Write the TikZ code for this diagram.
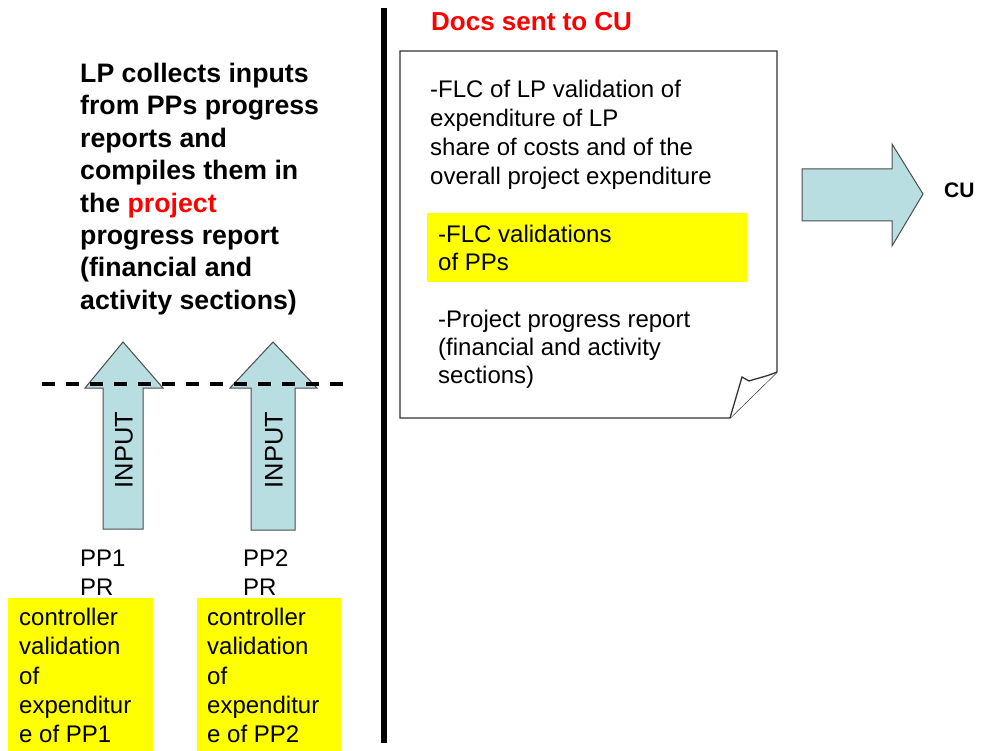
\documentclass[tikz,border=0pt]{standalone}
\usepackage{fontspec}
\setmainfont{Liberation Sans}
\usepackage{xcolor}
\usepackage{tikz}

\definecolor{arrowblue}{RGB}{185,222,226}
\definecolor{hiyellow}{RGB}{255,255,0}

\begin{document}
\begin{tikzpicture}[x=1pt, y=-1pt]

% Define styles
\tikzset{
    boldtext/.style={font=\fontsize{26.7}{32.4}\selectfont\bfseries, inner sep=0, align=left, anchor=north west},
    doctext/.style={font=\fontsize{24}{29}\selectfont, inner sep=0, align=left, anchor=north west},
    fatarrow/.style={fill=arrowblue, draw=black!70, line width=1},
    hilite/.style={fill=hiyellow, draw=none, inner sep=0, anchor=north west},
    docpaper/.style={fill=white, draw=black!80, line width=1.3}
}

\useasboundingbox (0,0) rectangle (982,751);

% divider
\coordinate (D1) at (384,8);
\coordinate (D2) at (384,743);
\draw[line width=6] (D1) -- (D2);

% left side text
\node[boldtext] (collect) at (80,63) {LP collects inputs\\from PPs progress\\reports and\\compiles them in\\the \textcolor{red}{project}\\progress report\\(financial and\\activity sections)};

% input arrows
\draw[fatarrow] (103,529) -- (103,388) -- (85,388) -- (123,342) -- (163,388) -- (143,388) -- (143,529) -- cycle;
\draw[fatarrow] (251,530) -- (251,388) -- (230,388) -- (273,342) -- (317,388) -- (295,388) -- (295,530) -- cycle;
\node[font=\fontsize{25.5}{30}\selectfont, rotate=90, inner sep=0] (in1) at (124,450) {INPUT};
\node[font=\fontsize{25.5}{30}\selectfont, rotate=90, inner sep=0] (in2) at (274,450) {INPUT};

% dashed line
\coordinate (L1) at (42,384);
\coordinate (L2) at (343,384);
\draw[line width=4.5, dash pattern=on 13 off 11] (L1) -- (L2);

% partner reports
\node[doctext] (pp1) at (80,550) {PP1\\PR};
\node[doctext] (pp2) at (243,550) {PP2\\PR};

% controller boxes
\node[hilite, minimum width=145, minimum height=155] (box1) at (8,598) {};
\node[hilite, minimum width=144, minimum height=155] (box2) at (197,598) {};
\node[doctext, font=\fontsize{24}{29.3}\selectfont] (ctrl1) at (19,608) {controller\\validation\\of\\expenditur\\e of PP1};
\node[doctext, font=\fontsize{24}{29.3}\selectfont] (ctrl2) at (207,608) {controller\\validation\\of\\expenditur\\e of PP2};

% docs sent to CU
\node[font=\fontsize{26}{30}\selectfont\bfseries, text=red, inner sep=0, anchor=base west] (sent) at (431,31) {Docs sent to CU};

% paper with folded corner
\coordinate (P1) at (400,51);
\coordinate (P2) at (777,51);
\coordinate (P3) at (777,372);
\coordinate (P4) at (730,418);
\coordinate (P5) at (400,418);
\draw[docpaper] (P1) -- (P2) -- (P3) -- (P4) -- (P5) -- cycle;
\draw[docpaper] (P4) -- (742,377) -- (749,381) .. controls (758,378) and (768,376) .. (P3);

\node[hilite, minimum width=320, minimum height=69] (flcbox) at (427,213) {};
\node[doctext] (flclp) at (430,79.5) {-FLC of LP validation of\\expenditure of LP\\share of costs and of the\\overall project expenditure};
\node[doctext, font=\fontsize{24}{28}\selectfont] (flcpp) at (438,224.5) {-FLC validations\\of PPs};
\node[doctext, font=\fontsize{24}{28}\selectfont] (report) at (438,309.5) {-Project progress report\\(financial and activity\\sections)};

% arrow to CU
\draw[fatarrow] (802,169) -- (892,169) -- (892,144) -- (923,194) -- (892,246) -- (892,221) -- (802,221) -- cycle;
\node[font=\fontsize{21}{25}\selectfont\bfseries, inner sep=0, anchor=base west] (cu) at (944,198) {CU};

\end{tikzpicture}
\end{document}
